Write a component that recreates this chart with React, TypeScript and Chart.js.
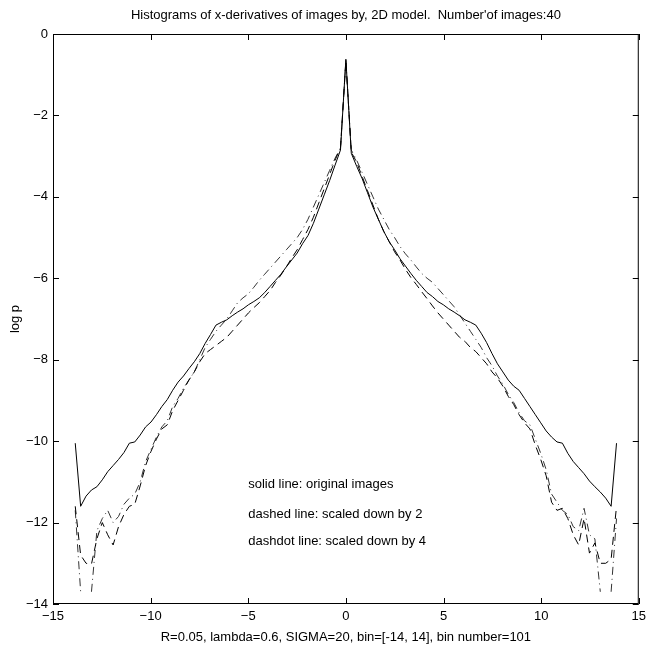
import React, { useEffect, useRef } from "react";
import { Chart, registerables } from "chart.js";

Chart.register(...registerables);

const binCenters: number[] = [
  -13.861, -13.584, -13.307, -13.03, -12.752, -12.475, -12.198, -11.921, -11.644, -11.366,
  -11.089, -10.812, -10.535, -10.257, -9.98, -9.703, -9.426, -9.149, -8.871, -8.594,
  -8.317, -8.04, -7.762, -7.485, -7.208, -6.931, -6.653, -6.376, -6.099, -5.822,
  -5.545, -5.267, -4.99, -4.713, -4.436, -4.158, -3.881, -3.604, -3.327, -3.05,
  -2.772, -2.495, -2.218, -1.941, -1.663, -1.386, -1.109, -0.832, -0.554, -0.277,
  0,
  0.277, 0.554, 0.832, 1.109, 1.386, 1.663, 1.941, 2.218, 2.495, 2.772,
  3.05, 3.327, 3.604, 3.881, 4.158, 4.436, 4.713, 4.99, 5.267, 5.545,
  5.822, 6.099, 6.376, 6.653, 6.931, 7.208, 7.485, 7.762, 8.04, 8.317,
  8.594, 8.871, 9.149, 9.426, 9.703, 9.98, 10.257, 10.535, 10.812, 11.089,
  11.366, 11.644, 11.921, 12.198, 12.475, 12.752, 13.03, 13.307, 13.584, 13.861,
];

// solid line: original images
const originalLogP: number[] = [
  -10.05, -11.6, -11.35, -11.2, -11.12, -10.95, -10.75, -10.6, -10.45, -10.28,
  -10.05, -10.02, -9.85, -9.65, -9.53, -9.35, -9.15, -8.98, -8.75, -8.55,
  -8.4, -8.22, -8.05, -7.85, -7.6, -7.38, -7.15, -7.08, -7.02, -6.92,
  -6.83, -6.75, -6.65, -6.57, -6.48, -6.35, -6.2, -6.05, -5.9, -5.72,
  -5.55, -5.38, -5.15, -4.95, -4.65, -4.3, -3.95, -3.6, -3.22, -2.85,
  -0.62,
  -2.93, -3.25, -3.55, -3.9, -4.25, -4.55, -4.85, -5.1, -5.3, -5.52,
  -5.7, -5.88, -6.05, -6.2, -6.35, -6.45, -6.57, -6.65, -6.75, -6.83,
  -6.92, -7.02, -7.08, -7.15, -7.35, -7.58, -7.85, -8.1, -8.3, -8.5,
  -8.65, -8.75, -8.95, -9.15, -9.35, -9.55, -9.75, -9.9, -10.02, -10.05,
  -10.3, -10.5, -10.65, -10.8, -10.98, -11.12, -11.25, -11.4, -11.6, -10.05,
];

// dashed line: scaled down by 2
const scaled2LogP: number[] = [
  -11.6, -12.8, -13.0, -13.02, -12.4, -12.0, -12.3, -12.55, -12.1, -11.8,
  -11.6, -11.55, -11.1, -10.6, -10.25, -9.95, -9.7, -9.6, -9.25, -9.0,
  -8.75, -8.5, -8.3, -8.05, -7.85, -7.75, -7.65, -7.55, -7.45, -7.3,
  -7.15, -7.0, -6.85, -6.72, -6.6, -6.45, -6.3, -6.1, -5.92, -5.72,
  -5.5, -5.3, -5.05, -4.8, -4.5, -4.15, -3.8, -3.45, -3.1, -2.8,
  -0.65,
  -2.9, -3.15, -3.5, -3.85, -4.2, -4.55, -4.85, -5.1, -5.35, -5.55,
  -5.78, -5.98, -6.15, -6.33, -6.5, -6.68, -6.85, -7.0, -7.15, -7.3,
  -7.45, -7.55, -7.7, -7.8, -7.95, -8.1, -8.3, -8.45, -8.65, -8.9,
  -9.1, -9.35, -9.55, -9.7, -10.1, -10.45, -10.85, -11.5, -11.7, -11.65,
  -11.9, -12.3, -12.55, -11.9, -12.75, -12.5, -13.0, -13.0, -12.9, -11.6,
];

// dashdot line: scaled down by 4 (null = empty bin)
const scaled4LogP: (number | null)[] = [
  -11.7, -13.7, null, -13.7, -12.2, -11.9, -11.7, -12.0, -11.85, -11.55,
  -11.4, -11.3, -11.0, -10.5, -10.2, -9.9, -9.65, -9.5, -9.15, -8.95,
  -8.7, -8.5, -8.3, -8.0, -7.7, -7.5, -7.3, -7.15, -7.0, -6.8,
  -6.6, -6.48, -6.38, -6.22, -6.05, -5.9, -5.75, -5.6, -5.45, -5.3,
  -5.15, -5.0, -4.8, -4.55, -4.25, -3.95, -3.65, -3.35, -3.05, -2.8,
  -0.65,
  -2.85, -3.1, -3.4, -3.7, -4.0, -4.3, -4.55, -4.8, -5.0, -5.22,
  -5.4, -5.55, -5.72, -5.88, -6.0, -6.1, -6.25, -6.4, -6.55, -6.7,
  -6.9, -7.1, -7.3, -7.5, -7.7, -7.95, -8.15, -8.4, -8.6, -8.85,
  -9.05, -9.3, -9.5, -9.6, -9.95, -10.3, -10.7, -11.3, -11.5, -11.7,
  -11.8, -12.1, -12.2, -11.65, -12.3, -12.4, -13.7, null, -13.7, -11.9,
];

const xTicks: number[] = [-15, -10, -5, 0, 5, 10, 15];
const yTicks: number[] = [0, -2, -4, -6, -8, -10, -12, -14];

const titleText = "Histograms of x-derivatives of images by, 2D model.  Number'of images:40";
const xLabel = "R=0.05, lambda=0.6, SIGMA=20, bin=[-14, 14], bin number=101";
const yLabel = "log p";

const noteTexts: string[] = [
  "solid line: original images",
  "dashed line: scaled down by 2",
  "dashdot line: scaled down by 4",
];
const noteX: number[] = [-5, -5, -5];
const noteY: number[] = [-11.07, -11.8, -12.47];

const FONT = "'Liberation Sans', Arial, Helvetica, sans-serif";
const FS = 13;

const fmtTick = (v: number | string) => {
  const n = Number(v);
  return n < 0 ? "\u2212" + String(Math.abs(n)) : String(n);
};

const boxPlugin = {
  id: "matlabBox",
  afterDatasetsDraw(chart: any) {
    const { ctx, chartArea, scales } = chart;
    const { left, right, top, bottom } = chartArea;
    ctx.save();
    ctx.strokeStyle = "#000";
    ctx.lineWidth = 1;
    ctx.strokeRect(left + 0.5, top + 0.5, right - left - 1, bottom - top - 1);
    const tl = 6;
    ctx.beginPath();
    xTicks.forEach((v) => {
      const px = Math.round(scales.x.getPixelForValue(v)) + 0.5;
      ctx.moveTo(px, bottom);
      ctx.lineTo(px, bottom - tl);
      ctx.moveTo(px, top);
      ctx.lineTo(px, top + tl);
    });
    yTicks.forEach((v) => {
      const py = Math.round(scales.y.getPixelForValue(v)) + 0.5;
      ctx.moveTo(left, py);
      ctx.lineTo(left + tl, py);
      ctx.moveTo(right, py);
      ctx.lineTo(right - tl, py);
    });
    ctx.stroke();
    ctx.fillStyle = "#000";
    ctx.font = FS + "px " + FONT;
    ctx.textAlign = "left";
    ctx.textBaseline = "middle";
    noteTexts.forEach((t, i) => {
      ctx.fillText(t, scales.x.getPixelForValue(noteX[i]), scales.y.getPixelForValue(noteY[i]));
    });
    ctx.restore();
  },
};

export default function App() {
  const ref = useRef<HTMLCanvasElement | null>(null);
  useEffect(() => {
    document.body.style.margin = "0";
    if (!ref.current) return;
    const mk = (vals: (number | null)[]) => binCenters.map((x, i) => ({ x, y: vals[i] }));
    const chart = new Chart(ref.current, {
      type: "line",
      data: {
        datasets: [
          {
            label: "original",
            data: mk(originalLogP),
            borderColor: "#000",
            borderWidth: 1,
            pointRadius: 0,
            tension: 0,
          },
          {
            label: "scaled by 2",
            data: mk(scaled2LogP),
            borderColor: "#000",
            borderWidth: 1,
            borderDash: [8, 5],
            pointRadius: 0,
            tension: 0,
          },
          {
            label: "scaled by 4",
            data: mk(scaled4LogP),
            borderColor: "#333",
            borderWidth: 1,
            borderDash: [8, 4, 1, 4],
            pointRadius: 0,
            tension: 0,
            spanGaps: false,
          },
        ],
      },
      options: {
        animation: false,
        responsive: false,
        devicePixelRatio: 1,
        layout: { padding: { left: 0, right: 12, top: 0, bottom: 0 } },
        plugins: {
          legend: { display: false },
          tooltip: { enabled: false },
          title: {
            display: true,
            fullSize: false,
            text: titleText,
            color: "#000",
            font: { family: FONT, size: FS, weight: "normal" },
            padding: { top: 7.2, bottom: 11.2 },
          },
        },
        scales: {
          x: {
            type: "linear",
            min: -15,
            max: 15,
            afterBuildTicks: (s: any) => {
              s.ticks = xTicks.map((v) => ({ value: v }));
            },
            afterFit: (s: any) => {
              s.height = 45;
            },
            grid: { display: false, drawTicks: false },
            border: { display: false },
            ticks: {
              color: "#000",
              padding: 5,
              maxRotation: 0,
              font: { family: FONT, size: FS },
              callback: (v: any) => fmtTick(v),
            },
            title: {
              display: true,
              text: xLabel,
              color: "#000",
              font: { family: FONT, size: FS },
              padding: { top: 0, bottom: 4.2 },
            },
          },
          y: {
            type: "linear",
            min: -14,
            max: 0,
            afterBuildTicks: (s: any) => {
              s.ticks = yTicks.map((v) => ({ value: v }));
            },
            afterFit: (s: any) => {
              s.width = 53;
            },
            grid: { display: false, drawTicks: false },
            border: { display: false },
            ticks: {
              color: "#000",
              padding: 5,
              font: { family: FONT, size: FS },
              callback: (v: any) => fmtTick(v),
            },
            title: {
              display: true,
              text: yLabel,
              color: "#000",
              font: { family: FONT, size: FS },
              padding: { top: 7.2, bottom: 0 },
            },
          },
        },
      },
      plugins: [boxPlugin],
    });
    return () => chart.destroy();
  }, []);
  return (
    <div style={{ position: "fixed", left: 0, top: 0, width: 651, height: 649, background: "#fff" }}>
      <canvas ref={ref} width={651} height={649} style={{ width: 651, height: 649, display: "block" }} />
    </div>
  );
}
